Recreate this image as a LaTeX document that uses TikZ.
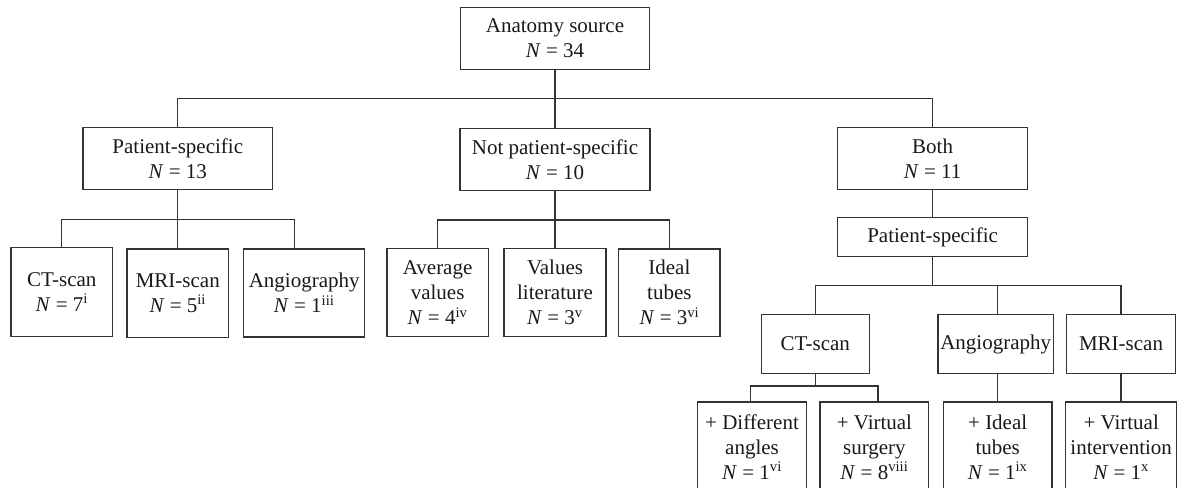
\documentclass[tikz,border=0pt]{standalone}
\usepackage{fontspec}
\setmainfont{Liberation Serif}
\tikzset{
  box/.style={draw=black!80, line width=1.2pt, rectangle, inner sep=0pt, align=center,
    text=black!90, font=\fontsize{21}{25}\selectfont},
  conn/.style={draw=black!80, line width=1.2pt}
}
\begin{document}
\begin{tikzpicture}[x=1pt,y=-1pt]
\useasboundingbox (0,0) rectangle (1177,487);
% level 0
\node[box, minimum width=189.5pt, minimum height=62pt] (root) at (555,38.3) {Anatomy source\\\textit{N} = 34};
% level 1
\node[box, minimum width=189.5pt, minimum height=62.5pt] (ps) at (177.8,158.4) {Patient-specific\\\textit{N} = 13};
\node[box, minimum width=190pt, minimum height=62pt] (nps) at (555,159.3) {Not patient-specific\\\textit{N} = 10};
\node[box, minimum width=189.5pt, minimum height=62pt] (both) at (932.6,158.3) {Both\\\textit{N} = 11};
% level 2 left
\node[box, minimum width=101.8pt, minimum height=89pt] (ct) at (61.8,292) {CT-scan\\\textit{N} = 7\textsuperscript{i}};
\node[box, minimum width=101.5pt, minimum height=88.3pt] (mri) at (177.8,293.2) {MRI-scan\\\textit{N} = 5\textsuperscript{ii}};
\node[box, minimum width=121pt, minimum height=88pt] (angio) at (304.2,293) {Angiography\\\textit{N} = 1\textsuperscript{iii}};
% level 2 middle
\node[box, minimum width=101.4pt, minimum height=88pt] (avg) at (437.6,292.7) {Average\\values\\\textit{N} = 4\textsuperscript{iv}};
\node[box, minimum width=102pt, minimum height=88pt] (vl) at (555,292.7) {Values\\literature\\\textit{N} = 3\textsuperscript{v}};
\node[box, minimum width=101.2pt, minimum height=87.7pt] (it) at (669.4,292.8) {Ideal\\tubes\\\textit{N} = 3\textsuperscript{vi}};
% right branch
\node[box, minimum width=189.5pt, minimum height=39pt] (ps2) at (932.6,237.2) {Patient-specific};
\node[box, minimum width=108pt, minimum height=59.4pt] (ct2) at (815.3,344) {CT-scan};
\node[box, minimum width=115.3pt, minimum height=59.4pt] (angio2) at (995.7,344) {Angiography};
\node[box, minimum width=108.5pt, minimum height=59.4pt] (mri2) at (1121,344) {MRI-scan};
\node[box, minimum width=109.4pt, minimum height=90pt] (diff) at (752,447) {+ Different\\angles\\\textit{N} = 1\textsuperscript{vi}};
\node[box, minimum width=108.7pt, minimum height=90pt] (vs) at (874.4,447) {+ Virtual\\surgery\\\textit{N} = 8\textsuperscript{viii}};
\node[box, minimum width=108.4pt, minimum height=90pt] (it2) at (997.7,447) {+ Ideal\\tubes\\\textit{N} = 1\textsuperscript{ix}};
\node[box, minimum width=111pt, minimum height=90pt] (vi) at (1121.2,447) {+ Virtual\\intervention\\\textit{N} = 1\textsuperscript{x}};
% helper coordinates
\coordinate (h0) at (0,98.3);
\coordinate (h1) at (0,219.3);
\coordinate (h2) at (0,220);
\coordinate (h3) at (0,285.7);
\coordinate (h4) at (0,386);
\coordinate (angtop) at ([xshift=-10pt]angio.north);
\coordinate (a2top) at ([xshift=2pt]angio2.north);
\coordinate (a2bot) at ([xshift=2pt]angio2.south);
\coordinate (dtop) at ([xshift=-1.5pt]diff.north);
\coordinate (vstop) at ([xshift=3.5pt]vs.north);
% connectors
\draw[conn] (root.south) -- (nps.north);
\draw[conn] (ps.north) |- (both.north |- h0) -- (both.north);
\draw[conn] (ps.south) -- (mri.north);
\draw[conn] (ct.north) |- (angtop |- h1) -- (angtop);
\draw[conn] (nps.south) -- (vl.north);
\draw[conn] (avg.north) |- (it.north |- h2) -- (it.north);
\draw[conn] (both.south) -- (ps2.north);
\draw[conn] (ps2.south) -- (ps2.south |- h3);
\draw[conn] (ct2.north) |- (mri2.north |- h3) -- (mri2.north);
\draw[conn] (a2top |- h3) -- (a2top);
\draw[conn] (ct2.south) -- (ct2.south |- h4);
\draw[conn] (dtop) |- (vstop |- h4) -- (vstop);
\draw[conn] (a2bot) -- (a2bot |- it2.north);
\draw[conn] (mri2.south) -- (mri2.south |- vi.north);
\end{tikzpicture}
\end{document}
